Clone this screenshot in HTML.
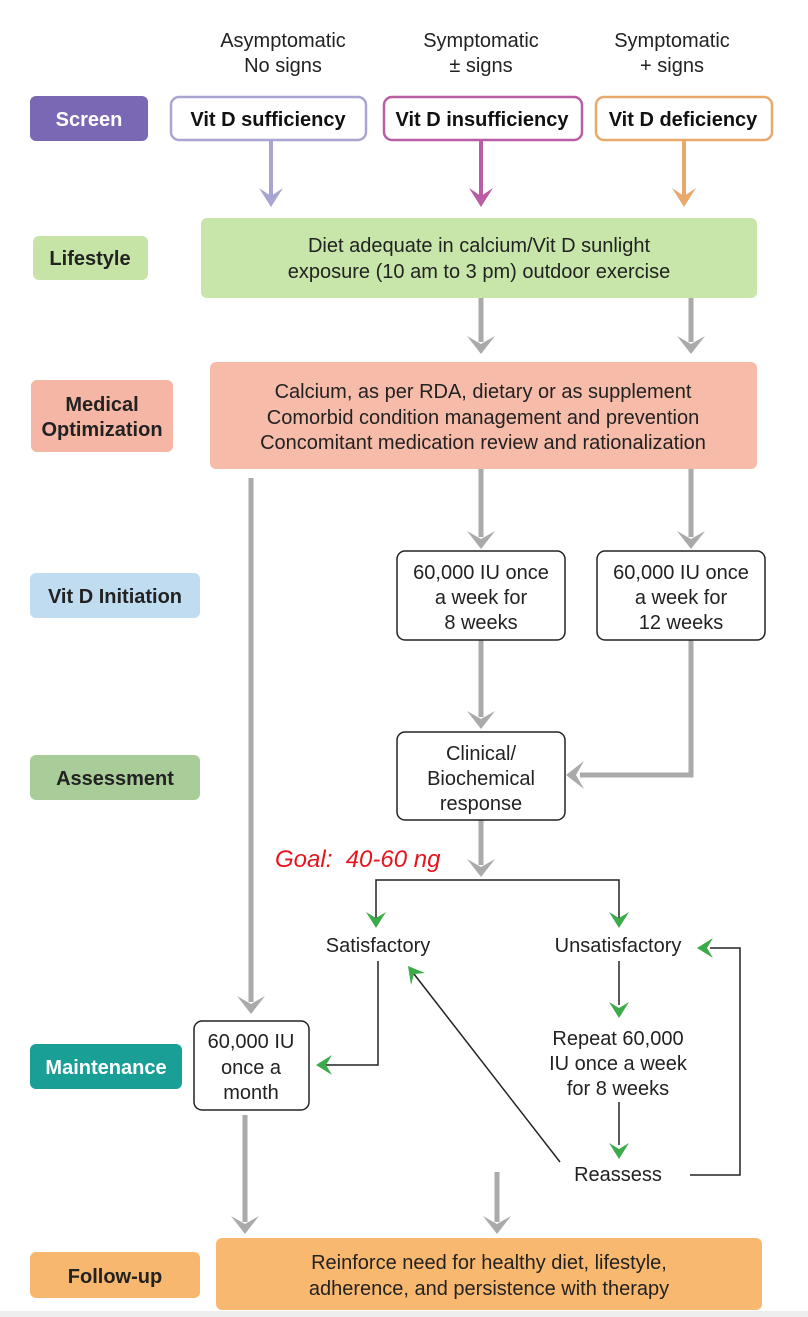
<!DOCTYPE html>
<html><head><meta charset="utf-8"><style>
html,body{margin:0;padding:0;background:#fff;}
svg{display:block;}
text{font-family:"Liberation Sans",Arial,sans-serif;}
</style></head><body>
<svg width="808" height="1317" viewBox="0 0 808 1317" xmlns="http://www.w3.org/2000/svg">
<rect width="808" height="1317" fill="#fff"/>
<g font-size="20" fill="#222" text-anchor="middle">
<text x="283" y="47">Asymptomatic</text><text x="283" y="72">No signs</text>
<text x="481" y="47">Symptomatic</text><text x="481" y="72">± signs</text>
<text x="672" y="47">Symptomatic</text><text x="672" y="72">+ signs</text>
</g>
<rect x="30" y="96" width="118" height="45" rx="6" fill="#7b68b5"/>
<text x="89" y="126" font-size="20" font-weight="bold" fill="#fff" text-anchor="middle">Screen</text>
<rect x="33" y="236" width="115" height="44" rx="6" fill="#c6e4a6"/>
<text x="90" y="265" font-size="20" font-weight="bold" fill="#222" text-anchor="middle">Lifestyle</text>
<rect x="31" y="380" width="142" height="72" rx="6" fill="#f5b6a5"/>
<text x="102" y="411" font-size="20" font-weight="bold" fill="#222" text-anchor="middle">Medical</text>
<text x="102" y="436" font-size="20" font-weight="bold" fill="#222" text-anchor="middle">Optimization</text>
<rect x="30" y="573" width="170" height="45" rx="6" fill="#c0dcf1"/>
<text x="115" y="603" font-size="20" font-weight="bold" fill="#222" text-anchor="middle">Vit D Initiation</text>
<rect x="30" y="755" width="170" height="45" rx="6" fill="#a9cd99"/>
<text x="115" y="785" font-size="20" font-weight="bold" fill="#222" text-anchor="middle">Assessment</text>
<rect x="30" y="1044" width="152" height="45" rx="6" fill="#1a9f97"/>
<text x="106" y="1074" font-size="20" font-weight="bold" fill="#fff" text-anchor="middle">Maintenance</text>
<rect x="30" y="1252" width="170" height="46" rx="6" fill="#f8b76f"/>
<text x="115" y="1283" font-size="20" font-weight="bold" fill="#222" text-anchor="middle">Follow-up</text>
<rect x="171" y="97" width="195" height="43" rx="8" fill="#fff" stroke="#a9a5d1" stroke-width="2.5"/>
<text x="268" y="126" font-size="20" font-weight="bold" fill="#111" text-anchor="middle">Vit D sufficiency</text>
<rect x="384" y="97" width="198" height="43" rx="8" fill="#fff" stroke="#b95da5" stroke-width="2.5"/>
<text x="482" y="126" font-size="20" font-weight="bold" fill="#111" text-anchor="middle">Vit D insufficiency</text>
<rect x="596" y="97" width="176" height="43" rx="8" fill="#fff" stroke="#e8aa6c" stroke-width="2.5"/>
<text x="683" y="126" font-size="20" font-weight="bold" fill="#111" text-anchor="middle">Vit D deficiency</text>
<g stroke-width="4">
<line x1="271" y1="140" x2="271" y2="198" stroke="#a9a5d1"/>
<line x1="481" y1="140" x2="481" y2="198" stroke="#b95da5"/>
<line x1="684" y1="140" x2="684" y2="198" stroke="#e8aa6c"/>
</g>
<polygon points="259,188 271,196 283,188 271,207" fill="#a9a5d1"/>
<polygon points="469,188 481,196 493,188 481,207" fill="#b95da5"/>
<polygon points="672,188 684,196 696,188 684,207" fill="#e8aa6c"/>
<rect x="201" y="218" width="556" height="80" rx="6" fill="#c8e6a9"/>
<text x="479" y="252" font-size="20" fill="#222" text-anchor="middle">Diet adequate in calcium/Vit D sunlight</text>
<text x="479" y="278" font-size="20" fill="#222" text-anchor="middle">exposure (10 am to 3 pm) outdoor exercise</text>
<rect x="210" y="362" width="547" height="107" rx="6" fill="#f7bba9"/>
<text x="483" y="398" font-size="20" fill="#222" text-anchor="middle">Calcium, as per RDA, dietary or as supplement</text>
<text x="483" y="424" font-size="20" fill="#222" text-anchor="middle">Comorbid condition management and prevention</text>
<text x="483" y="449" font-size="20" fill="#222" text-anchor="middle">Concomitant medication review and rationalization</text>
<g stroke="#aaa" stroke-width="5" fill="none">
<line x1="481" y1="298" x2="481" y2="342"/>
<line x1="691" y1="298" x2="691" y2="342"/>
<line x1="481" y1="469" x2="481" y2="537"/>
<line x1="691" y1="469" x2="691" y2="537"/>
<line x1="251" y1="478" x2="251" y2="1002"/>
<line x1="481" y1="640" x2="481" y2="717"/>
<polyline points="691,640 691,775 580,775"/>
<line x1="481" y1="820" x2="481" y2="865"/>
<line x1="245" y1="1115" x2="245" y2="1222"/>
<line x1="497" y1="1172" x2="497" y2="1222"/>
</g>
<g fill="#aaa">
<polygon points="467,336 481,344 495,336 481,354"/>
<polygon points="677,336 691,344 705,336 691,354"/>
<polygon points="467,531 481,539 495,531 481,549"/>
<polygon points="677,531 691,539 705,531 691,549"/>
<polygon points="237,996 251,1004 265,996 251,1014"/>
<polygon points="467,711 481,719 495,711 481,729"/>
<polygon points="584,761 576,775 584,789 566,775"/>
<polygon points="467,859 481,867 495,859 481,877"/>
<polygon points="231,1216 245,1224 259,1216 245,1234"/>
<polygon points="483,1216 497,1224 511,1216 497,1234"/>
</g>
<rect x="397" y="551" width="168" height="89" rx="8" fill="#fff" stroke="#222" stroke-width="1.5"/>
<text x="481" y="579" font-size="20" fill="#222" text-anchor="middle">60,000 IU once</text>
<text x="481" y="604" font-size="20" fill="#222" text-anchor="middle">a week for</text>
<text x="481" y="629" font-size="20" fill="#222" text-anchor="middle">8 weeks</text>
<rect x="597" y="551" width="168" height="89" rx="8" fill="#fff" stroke="#222" stroke-width="1.5"/>
<text x="681" y="579" font-size="20" fill="#222" text-anchor="middle">60,000 IU once</text>
<text x="681" y="604" font-size="20" fill="#222" text-anchor="middle">a week for</text>
<text x="681" y="629" font-size="20" fill="#222" text-anchor="middle">12 weeks</text>
<rect x="397" y="732" width="168" height="88" rx="8" fill="#fff" stroke="#222" stroke-width="1.5"/>
<text x="481" y="760" font-size="20" fill="#222" text-anchor="middle">Clinical/</text>
<text x="481" y="785" font-size="20" fill="#222" text-anchor="middle">Biochemical</text>
<text x="481" y="810" font-size="20" fill="#222" text-anchor="middle">response</text>
<text x="275" y="867" font-size="24" font-style="italic" fill="#e8141b">Goal:&#160; 40-60 ng</text>
<g stroke="#222" stroke-width="1.5" fill="none">
<polyline points="376,918 376,880 619,880 619,918"/>
<polyline points="378,961 378,1065 325,1065"/>
<line x1="619" y1="961" x2="619" y2="1005"/>
<line x1="619" y1="1102" x2="619" y2="1145"/>
<polyline points="690,1175 740,1175 740,948 710,948"/>
<line x1="560" y1="1162" x2="414" y2="974"/>
</g>
<g fill="#3cac4a">
<polygon points="366,912 376,918 386,912 376,928"/>
<polygon points="609,912 619,918 629,912 619,928"/>
<polygon points="609,1002 619,1008 629,1002 619,1018"/>
<polygon points="609,1143 619,1149 629,1143 619,1159"/>
<polygon points="332,1055 326,1065 332,1075 316,1065"/>
<polygon points="713,938 707,948 713,958 697,948"/>
<polygon points="408,966 425,973 414,974 411,985"/>
</g>
<g font-size="20" fill="#222" text-anchor="middle">
<text x="378" y="952">Satisfactory</text>
<text x="618" y="952">Unsatisfactory</text>
<text x="618" y="1045">Repeat 60,000</text>
<text x="618" y="1070">IU once a week</text>
<text x="618" y="1095">for 8 weeks</text>
<text x="618" y="1181">Reassess</text>
</g>
<rect x="194" y="1021" width="115" height="89" rx="8" fill="#fff" stroke="#222" stroke-width="1.5"/>
<text x="251" y="1048" font-size="20" fill="#222" text-anchor="middle">60,000 IU</text>
<text x="251" y="1074" font-size="20" fill="#222" text-anchor="middle">once a</text>
<text x="251" y="1099" font-size="20" fill="#222" text-anchor="middle">month</text>
<rect x="216" y="1238" width="546" height="72" rx="6" fill="#f9b870"/>
<text x="489" y="1269" font-size="20" fill="#222" text-anchor="middle">Reinforce need for healthy diet, lifestyle,</text>
<text x="489" y="1295" font-size="20" fill="#222" text-anchor="middle">adherence, and persistence with therapy</text>
<rect x="0" y="1311" width="808" height="6" fill="#ddd" opacity="0.5"/>
</svg>
</body></html>
